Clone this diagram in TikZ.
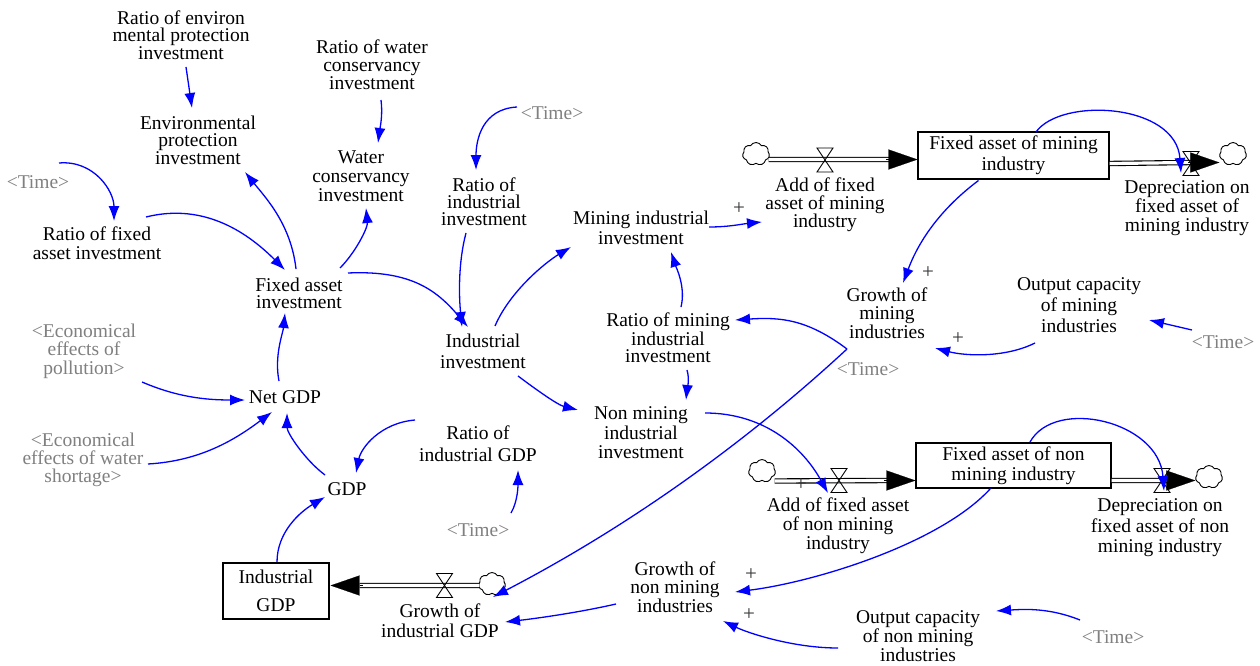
\documentclass[tikz,border=0pt]{standalone}
\usepackage{fontspec}
\setmainfont{Liberation Serif}
\usetikzlibrary{arrows.meta,shapes.symbols}
\begin{document}
\begin{tikzpicture}[x=1pt,y=-1pt,
  var/.style={font=\fontsize{19.5}{#1}\selectfont, align=center, inner sep=1pt},
  var/.default=19,
  shadowvar/.style={var=#1, text=black!50},
  shadowvar/.default=19,
  stockbox/.style={draw, line width=1.1pt, align=center, inner sep=0pt, font=\fontsize{19.5}{#1}\selectfont},
  link/.style={draw=blue, line width=1.3pt, -{Latex[length=15pt,width=11pt]}},
  pipe/.style={draw=black, double=white, double distance=3.2pt, line width=1.1pt},
  flowtip/.style={draw=black, line width=0.2pt, -{Triangle[length=29pt,width=20pt]}},
  polsign/.style={font=\fontsize{21}{21}\selectfont, text=black!80, inner sep=0pt},
  sink/.style={cloud, draw, cloud puffs=7, cloud puff arc=120, aspect=1.2, minimum width=27pt, minimum height=23pt, inner sep=0pt, line width=0.9pt, fill=white},
  flowvalve/.pic={\draw[line width=0.9pt] (-8,-12) -- (8,-12) -- (0,0) -- cycle (-8,12) -- (8,12) -- (0,0) -- cycle;}
]
\fill[white] (0,0) rectangle (1260,666);
\useasboundingbox (0,0) rectangle (1260,666);

% ---------- variables ----------
\node[var=17.5] (renv) at (181,35) {Ratio of environ\\mental protection\\investment};
\node[var=17.5] (envp) at (198,140) {Environmental\\protection\\investment};
\node[var=18] (rwater) at (372,65) {Ratio of water\\conservancy\\investment};
\node[var=19] (water) at (361,176) {Water\\conservancy\\investment};
\node[shadowvar] (time1) at (552,113) {<Time>};
\node[var=17] (rind) at (484,202) {Ratio of\\industrial\\investment};
\node[shadowvar] (time2) at (38,182) {<Time>};
\node[var=19] (rfix) at (97,243) {Ratio of fixed\\asset investment};
\node[var=17] (fai) at (299,293) {Fixed asset\\investment};
\node[var=21] (indinv) at (483,351) {Industrial\\investment};
\node[var=20] (mininv) at (641,228) {Mining industrial\\investment};
\node[var=18] (addm) at (825,205) {Add of fixed\\asset of mining\\industry};
\node[stockbox=21, minimum width=191pt, minimum height=47pt] (fam) at (1013.5,155.5) {Fixed asset of mining\\industry};
\node[var=19] (depm) at (1187,208) {Depreciation on\\fixed asset of\\mining industry};
\node[var=18.5] (growm) at (887,313) {Growth of\\mining\\industries};
\node[var=21] (outm) at (1079,305) {Output capacity\\of mining\\industries};
\node[shadowvar] (time3) at (1223,342) {<Time>};
\node[shadowvar] (time4) at (868,369) {<Time>};
\node[var=17] (rmin) at (668,338) {Ratio of mining\\industrial\\investment};
\node[var=19.5] (nonmin) at (641,433) {Non mining\\industrial\\investment};
\node[shadowvar=18.5] (econp) at (84,351) {<Economical\\effects of\\pollution>};
\node[var] (netgdp) at (285,397) {Net GDP};
\node[shadowvar=18] (econw) at (83,460) {<Economical\\effects of water\\shortage>};
\node[var=22] (rindgdp) at (478,444) {Ratio of\\industrial GDP};
\node[var] (gdp) at (347,489) {GDP};
\node[shadowvar] (time6) at (478,530) {<Time>};
\node[stockbox=28, minimum width=106pt, minimum height=56pt] (indgdp) at (276,591) {Industrial\\GDP};
\node[var=20] (growigdp) at (440,621) {Growth of\\industrial GDP};
\node[var=18.5] (grownm) at (675,587) {Growth of\\non mining\\industries};
\node[var=19] (outnm) at (918,636) {Output capacity\\of non mining\\industries};
\node[shadowvar] (time5) at (1113,637) {<Time>};
\node[stockbox=20, minimum width=195pt, minimum height=45pt] (fanm) at (1013.5,465.5) {Fixed asset of non\\mining industry};
\node[var=19] (addnm) at (838,526) {Add of fixed asset\\of non mining\\industry};
\node[var=20.5] (depnm) at (1160,528) {Depreciation on\\fixed asset of non\\mining industry};

% ---------- clouds ----------
\node[sink] (cl1) at (756,154) {};
\node[sink] (cl2) at (1233,154) {};
\node[sink] (cl3) at (762,471) {};
\node[sink] (cl4) at (1209,477) {};
\node[sink] (cl5) at (492,584) {};

% ---------- flows ----------
\draw[pipe] ([shift={(-1,5.5)}]cl1.east) -- ([shift={(-28,4)}]fam.west);
\draw[flowtip] ([shift={(-31,4)}]fam.west) -- ([shift={(0,4)}]fam.west);
\pic at (825,160) {flowvalve};

\draw[pipe] ([shift={(0,8)}]fam.east) -- ([shift={(-28,8.5)}]cl2.west);
\pic at (1191,163.5) {flowvalve};
\draw[flowtip] ([shift={(-31,8.5)}]cl2.west) -- ([shift={(0,8.5)}]cl2.west);

\draw[pipe] ([shift={(-1,10)}]cl3.east) -- ([shift={(-28,15)}]fanm.west);
\draw[flowtip] ([shift={(-31,15)}]fanm.west) -- ([shift={(0,15)}]fanm.west);
\pic at (839,480.5) {flowvalve};

\draw[pipe] ([shift={(0,15)}]fanm.east) -- ([shift={(-28,3.5)}]cl4.west);
\pic at (1162,480.5) {flowvalve};
\draw[flowtip] ([shift={(-31,3.5)}]cl4.west) -- ([shift={(0,3.5)}]cl4.west);

\draw[pipe] ([shift={(1,1.5)}]cl5.west) -- ([shift={(30,-5.5)}]indgdp.east);
\draw[flowtip] ([shift={(33,-5.5)}]indgdp.east) -- ([shift={(1,-5.5)}]indgdp.east);
\pic at (444.5,585.5) {flowvalve};

% ---------- links ----------
\draw[link] ([shift={(5,32)}]renv.center) -- ([shift={(-6,-32)}]envp.center);
\draw[link] ([shift={(9,35)}]rwater.center) .. controls +(2,15) and +(2,-15) .. ([shift={(17,-33)}]water.center);
\draw[link] ([shift={(-35,-6)}]time1.center) .. controls +(-35,2) and +(0,-30) .. ([shift={(-8,-32)}]rind.center);
\draw[link] ([shift={(21,-19)}]time2.center) .. controls +(35,-3) and +(0,-30) .. ([shift={(17,-22)}]rfix.center);
\draw[link] ([shift={(49,-26)}]rfix.center) .. controls +(60,-15) and +(-35,-35) .. ([shift={(-14,-23)}]fai.center);
\draw[link] ([shift={(-3,-24)}]fai.center) .. controls +(-5,-45) and +(20,25) .. ([shift={(47,32)}]envp.center);
\draw[link] ([shift={(41,-25)}]fai.center) .. controls +(15,-15) and +(2,20) .. ([shift={(5,32)}]water.center);
\draw[link] ([shift={(49,-20)}]fai.center) .. controls +(65,-3) and +(-30,-35) .. ([shift={(-15,-24)}]indinv.center);
\draw[link] ([shift={(-18,31)}]rind.center) .. controls +(-8,30) and +(-3,-30) .. ([shift={(-21,-24)}]indinv.center);
\draw[link] ([shift={(12,-25)}]indinv.center) .. controls +(15,-35) and +(-25,15) .. ([shift={(-70,19)}]mininv.center);
\draw[link] ([shift={(35,25)}]indinv.center) .. controls +(20,15) and +(-20,-5) .. ([shift={(-63,-23)}]nonmin.center);
\draw[link] ([shift={(68,-1)}]mininv.center) .. controls +(20,0) and +(-20,2) .. ([shift={(-63,17)}]addm.center);
\draw[link] ([shift={(13,-31)}]rmin.center) .. controls +(5,-20) and +(5,15) .. ([shift={(30,24)}]mininv.center);
\draw[link] ([shift={(19,32)}]rmin.center) .. controls +(3,10) and +(1,-10) .. ([shift={(45,-33)}]nonmin.center);
\draw[link] ([shift={(-21,-20)}]time4.center) .. controls +(-40,-30) and +(45,-3) .. ([shift={(67,-18)}]rmin.center);
\draw[link] ([shift={(-40,36)}]growm.center) .. controls +(-107,99) and +(129,-67) .. ([shift={(53,-24)}]growigdp.center);
\draw[link] ([shift={(-35,25)}]fam.center) .. controls +(-40,30) and +(15,-40) .. ([shift={(16,-30)}]growm.center);
\draw[link] ([shift={(-44,38)}]outm.center) .. controls +(-30,15) and +(30,8) .. ([shift={(48,35)}]growm.center);
\draw[link] ([shift={(-31,-12)}]time3.center) -- ([shift={(70,15)}]outm.center);
\draw[link] ([shift={(22.5,-23.5)}]fam.center) .. controls +(25,-35) and +(-5,-70) .. ([shift={(-6,-35)}]depm.center);
\draw[link] ([shift={(64,-20)}]nonmin.center) .. controls +(60,0) and +(-25,-45) .. ([shift={(-10,-33)}]addnm.center);
\draw[link] ([shift={(-23,23)}]fanm.center) .. controls +(-50,55) and +(80,-10) .. ([shift={(60,5)}]grownm.center);
\draw[link] ([shift={(-80,12)}]outnm.center) .. controls +(-45,0) and +(25,12) .. ([shift={(48,34)}]grownm.center);
\draw[link] ([shift={(-33,-17)}]time5.center) .. controls +(-30,-12) and +(30,-2) .. ([shift={(78,-25)}]outnm.center);
\draw[link] ([shift={(16.5,-23.5)}]fanm.center) .. controls +(25,-45) and +(-5,-70) .. ([shift={(4,-37)}]depnm.center);
\draw[link] ([shift={(-59,17)}]grownm.center) .. controls +(-35,8) and +(35,-4) .. ([shift={(65,1)}]growigdp.center);
\draw[link] ([shift={(1,-29)}]indgdp.center) .. controls +(0,-30) and +(-25,15) .. ([shift={(-22,8)}]gdp.center);
\draw[link] ([shift={(-63,-24)}]rindgdp.center) .. controls +(-35,3) and +(5,-25) .. ([shift={(9,-16)}]gdp.center);
\draw[link] ([shift={(33,-17)}]time6.center) .. controls +(7,-12) and +(0,15) .. ([shift={(40,26)}]rindgdp.center);
\draw[link] ([shift={(-22,-14)}]gdp.center) .. controls +(-20,-15) and +(0,20) .. ([shift={(2,16)}]netgdp.center);
\draw[link] ([shift={(-6,-16)}]netgdp.center) .. controls +(-5,-25) and +(-2,20) .. ([shift={(-14,20)}]fai.center);
\draw[link] ([shift={(58,31)}]econp.center) .. controls +(35,15) and +(-40,0) .. ([shift={(-40,3)}]netgdp.center);
\draw[link] ([shift={(65,4)}]econw.center) .. controls +(50,-3) and +(-40,30) .. ([shift={(-13,15)}]netgdp.center);

% ---------- polarity signs ----------
\node[polsign] (p1) at (739,209) {+};
\node[polsign] (p2) at (928,273) {+};
\node[polsign] (p3) at (958,339) {+};
\node[polsign] (p4) at (801,485) {+};
\node[polsign] (p5) at (751,575) {+};
\node[polsign] (p6) at (749,615) {+};
\end{tikzpicture}
\end{document}
